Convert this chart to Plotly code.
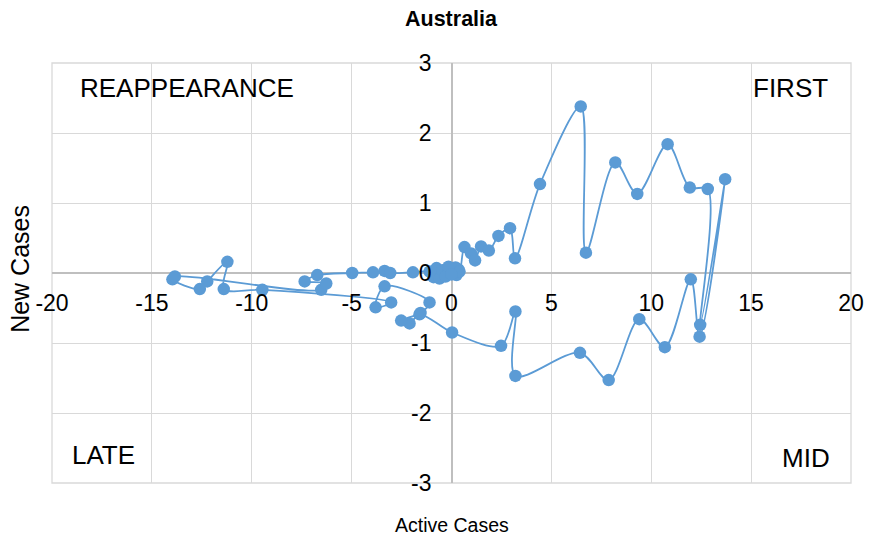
import plotly.graph_objects as go

# active cases vs new cases, in path order
active = [0.05, 0.15, 0.25, 0.35, 0.2, 0.4,
          0.65, 0.98, 1.18, 1.48, 1.87, 2.35, 2.93, 3.18, 4.43, 6.47, 6.73, 8.2, 9.3,
          10.82, 11.93, 12.83, 12.45, 13.7, 12.42, 11.98, 10.68, 9.4, 7.87, 6.43,
          3.2, 3.2, 2.48, 0.03, -1.6, -2.1, -2.52, -1.55, -1.1, -3.35, -3.8, -3.02,
          -9.47, -11.4, -11.22, -12.23, -12.6, -13.97, -13.85, -6.52, -6.27, -7.35,
          -6.72, -4.97, -3.93, -3.35, -3.07, -1.93,
          -1.1, -0.9, -0.75, -0.6, -0.45, -0.3, -0.15, 0.0]
new = [0.0, 0.06, -0.03, 0.05, 0.08, 0.02,
       0.37, 0.28, 0.18, 0.38, 0.32, 0.53, 0.64, 0.21, 1.27, 2.38, 0.29, 1.58, 1.13,
       1.84, 1.22, 1.2, -0.74, 1.34, -0.91, -0.09, -1.06, -0.66, -1.53, -1.14,
       -1.47, -0.55, -1.04, -0.85, -0.59, -0.72, -0.68, -0.57, -0.42, -0.19, -0.49, -0.42,
       -0.24, -0.23, 0.16, -0.12, -0.23, -0.09, -0.05, -0.24, -0.15, -0.12,
       -0.03, 0.0, 0.01, 0.03, 0.0, 0.01,
       0.02, -0.06, 0.07, -0.08, 0.04, -0.05, 0.09, -0.02]

x_ticks = [-20, -15, -10, -5, 0, 5, 10, 15, 20]
x_labels = ["-20", "-15", "-10", "-5", "0", "5", "10", "15", "20"]
y_ticks = [-3, -2, -1, 0, 1, 2, 3]
y_labels = ["-3", "-2", "-1", "0", "1", "2", "3"]

blue = "#5B9BD5"
grid = "#d9d9d9"
font = "Liberation Sans, Arial, sans-serif"

fig = go.Figure(go.Scatter(
    x=active, y=new, mode="lines+markers",
    line=dict(color=blue, width=1.8, shape="spline", smoothing=0.9),
    marker=dict(color=blue, size=12.5),
))

fig.update_layout(
    width=869, height=545,
    margin=dict(l=52, r=18, t=63, b=62),
    paper_bgcolor="white", plot_bgcolor="white",
    showlegend=False,
    font=dict(family=font, color="black", size=23),
    title=dict(text="<b>Australia</b>", x=0.519, xanchor="center", y=0.967, yanchor="middle",
               font=dict(size=21.5, family=font)),
)
fig.update_xaxes(range=[-20, 20], tickvals=x_ticks, ticktext=x_labels,
                 anchor="free", position=0.5, automargin=False,
                 showgrid=True, gridcolor=grid, gridwidth=1.3,
                 zeroline=True, zerolinecolor="#bfbfbf", zerolinewidth=1.6,
                 showline=False, ticks="", ticklabelstandoff=14,
                 tickfont=dict(size=23))
fig.update_yaxes(range=[-3, 3], tickvals=y_ticks, ticktext=y_labels,
                 anchor="free", position=0.5, automargin=False,
                 showgrid=True, gridcolor=grid, gridwidth=1.3,
                 zeroline=True, zerolinecolor="#bfbfbf", zerolinewidth=1.6,
                 showline=False, ticks="", ticklabelstandoff=20,
                 tickfont=dict(size=23))

# plot area border
fig.add_shape(type="rect", xref="paper", yref="paper", x0=0, x1=1, y0=0, y1=1,
              line=dict(color=grid, width=1.3), layer="below")

quad = [("REAPPEARANCE", 0.0325, 0.94, "left"), ("FIRST", 0.974, 0.94, "right"),
        ("LATE", 0.0225, 0.067, "left"), ("MID", 0.976, 0.06, "right")]
for txt, qx, qy, anc in quad:
    fig.add_annotation(text=txt, x=qx, y=qy, xref="paper", yref="paper",
                       xanchor=anc, yanchor="middle", showarrow=False,
                       font=dict(size=26, family=font))

fig.add_annotation(text="Active Cases", x=0.501, y=-0.1, xref="paper", yref="paper",
                   xanchor="center", yanchor="middle", showarrow=False,
                   font=dict(size=19.5, family=font))
fig.add_annotation(text="New Cases", x=-0.04, y=0.51, xref="paper", yref="paper",
                   xanchor="center", yanchor="middle", showarrow=False, textangle=-90,
                   font=dict(size=25, family=font))

# drop the default 8px page margin so the figure fills the window
fig.write_html("out.html", config={"displayModeBar": False},
               post_script="document.body.style.margin='0';")
